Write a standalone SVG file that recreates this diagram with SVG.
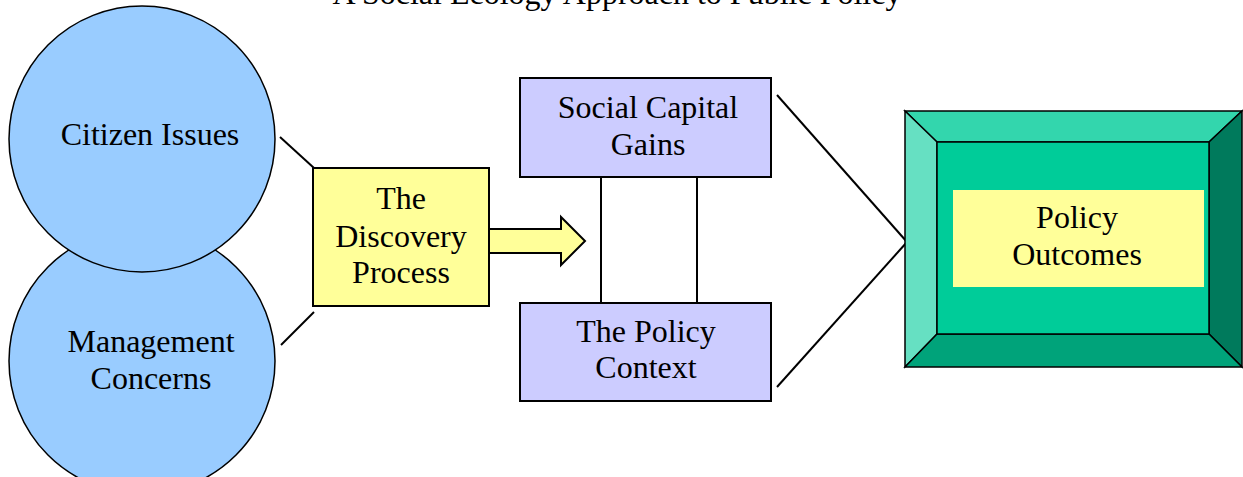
<svg xmlns="http://www.w3.org/2000/svg" width="1243" height="477" viewBox="0 0 1243 477">
<style>
.circ{fill:#99CCFF;stroke:#000;stroke-width:1.5}
.yel{fill:#FFFF99;stroke:#000;stroke-width:2}
.blu{fill:#CCCCFF;stroke:#000;stroke-width:2}
.ln{stroke:#000;stroke-width:2;fill:none}
.bev{stroke:#000;stroke-width:1.5}
</style>
<rect width="1243" height="477" fill="#fff"/>
<text x="617" y="4" font-family="Liberation Serif, serif" font-size="32" text-anchor="middle">A Social Ecology Approach to Public Policy</text>
<g id="connectors">
<line class="ln" x1="280" y1="137" x2="314" y2="168"/>
<line class="ln" x1="281" y1="345" x2="314" y2="312"/>
<line class="ln" x1="601" y1="177" x2="601" y2="303"/>
<line class="ln" x1="697" y1="177" x2="697" y2="303"/>
<line class="ln" x1="777" y1="95" x2="907" y2="242"/>
<line class="ln" x1="777" y1="387" x2="907" y2="242"/>
<path d="M489,229 H561 V217 L585,241 L561,265 V253 H489 Z" class="yel"/>
</g>
<g id="management">
<circle class="circ" cx="142" cy="361" r="133"/>
<text x="151" y="352" font-family="Liberation Serif, serif" font-size="32" text-anchor="middle">Management</text>
<text x="151" y="389" font-family="Liberation Serif, serif" font-size="32" text-anchor="middle">Concerns</text>
</g>
<g id="citizen">
<circle class="circ" cx="142" cy="139" r="133"/>
<text x="150" y="145" font-family="Liberation Serif, serif" font-size="32" text-anchor="middle">Citizen Issues</text>
</g>
<g id="discovery">
<rect class="yel" x="313" y="168" width="176" height="138"/>
<text x="401" y="209" font-family="Liberation Serif, serif" font-size="32" text-anchor="middle">The</text>
<text x="401" y="247" font-family="Liberation Serif, serif" font-size="32" text-anchor="middle">Discovery</text>
<text x="401" y="283" font-family="Liberation Serif, serif" font-size="32" text-anchor="middle">Process</text>
</g>
<g id="social">
<rect class="blu" x="520" y="78" width="251" height="99"/>
<text x="648" y="118" font-family="Liberation Serif, serif" font-size="32" text-anchor="middle">Social Capital</text>
<text x="648" y="155" font-family="Liberation Serif, serif" font-size="32" text-anchor="middle">Gains</text>
</g>
<g id="context">
<rect class="blu" x="520" y="303" width="251" height="98"/>
<text x="646" y="342" font-family="Liberation Serif, serif" font-size="32" text-anchor="middle">The Policy</text>
<text x="646" y="378" font-family="Liberation Serif, serif" font-size="32" text-anchor="middle">Context</text>
</g>
<g id="outcomes">
<polygon class="bev" fill="#33D6AD" points="905,111 1242,111 1209,142 937,142"/>
<polygon class="bev" fill="#66E0C2" points="905,111 937,142 937,334 905,367"/>
<polygon class="bev" fill="#007A5C" points="1242,111 1242,367 1209,334 1209,142"/>
<polygon class="bev" fill="#00A37A" points="905,367 937,334 1209,334 1242,367"/>
<rect class="bev" fill="#00CC99" x="937" y="142" width="272" height="192"/>
<rect fill="#FFFF99" x="953" y="190" width="251" height="97"/>
<text x="1077" y="228" font-family="Liberation Serif, serif" font-size="32" text-anchor="middle">Policy</text>
<text x="1077" y="265" font-family="Liberation Serif, serif" font-size="32" text-anchor="middle">Outcomes</text>
</g>
</svg>
